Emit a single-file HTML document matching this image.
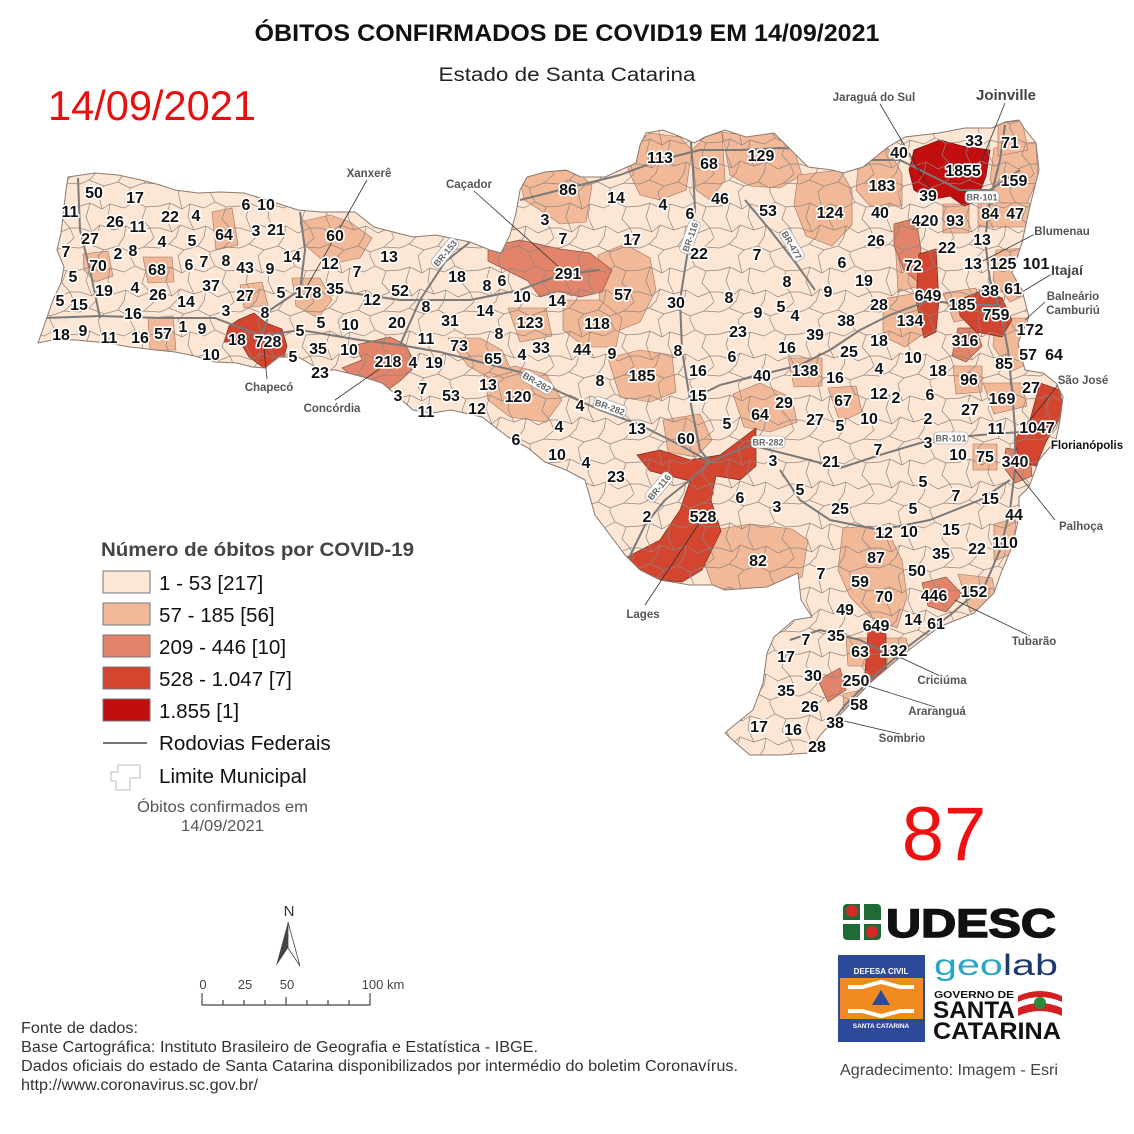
<!DOCTYPE html>
<html><head><meta charset="utf-8"><style>
html,body{margin:0;padding:0;background:#fff;}
svg{display:block;}
.n text{font-family:"Liberation Sans",Arial,sans-serif;font-weight:bold;font-size:16px;fill:#111;stroke:#fff;stroke-width:3.2px;paint-order:stroke;stroke-linejoin:round;text-anchor:middle;}
.pl{font-family:"Liberation Sans",Arial,sans-serif;font-weight:bold;font-size:11.5px;fill:#555;stroke:#fff;stroke-width:2.5px;paint-order:stroke;}
.rl rect{fill:#fff;stroke:#999;stroke-width:0.6;}
.rl text{font-family:"Liberation Sans",Arial,sans-serif;font-weight:bold;font-size:9px;fill:#666;text-anchor:middle;}
.ft{font-family:"Liberation Sans",Arial,sans-serif;font-size:15.5px;fill:#333;}
</style></head><body>
<svg width="1134" height="1134" viewBox="0 0 1134 1134" xmlns="http://www.w3.org/2000/svg">
<defs>
<clipPath id="sc"><polygon id="statep" points="68,177 95,173 118,175 141,180 160,185 175,190 198,193 220,192 244,193 267,200 298,210 321,212 355,212 374,227 397,233 413,237 436,235 470,242 490,250 501,253 510,235 516,213 520,190 527,177 545,172 566,170 581,177 605,177 625,168 636,163 640,145 646,133 663,130 681,137 694,143 705,137 725,130 746,137 774,133 794,153 808,167 832,170 843,173 863,167 888,147 905,137 939,133 965,128 992,128 1005,122 1019,120 1024,128 1036,143 1039,170 1034,190 1029,210 1022,243 1012,273 1022,290 1029,317 1018,343 1025,370 1043,373 1056,383 1063,397 1060,420 1056,440 1039,460 1029,487 1019,497 1019,517 1012,547 1001,573 994,593 974,613 939,627 905,653 870,683 840,715 822,733 808,753 780,755 750,755 738,745 725,733 732,727 753,710 763,683 767,653 774,637 794,620 812,617 801,600 798,573 767,587 725,590 713,585 690,585 660,580 640,570 625,555 610,535 595,515 585,480 566,470 545,462 528,448 508,437 482,417 451,410 432,413 413,410 394,393 382,383 363,377 336,370 321,370 298,357 279,357 265,368 252,367 237,363 215,362 195,356 175,352 156,350 130,347 107,343 76,340 53,340 38,343 45,323 53,300 61,283 64,267 57,250 61,233 64,207 66,190"/></clipPath>
<pattern id="cells" width="80" height="64" patternUnits="userSpaceOnUse">
<path d="M0,14 L10,11 L22,17 L30,12 L44,16 L55,10 L66,15 L80,14 M0,36 L12,40 L20,33 L34,38 L46,34 L58,41 L70,36 L80,36 M0,56 L9,52 L24,58 L38,54 L50,60 L64,55 L80,56 M18,0 L22,17 M50,0 L55,10 M30,12 L28,25 L34,38 M66,15 L62,27 L70,36 M10,11 L6,25 L12,40 M46,34 L44,45 L38,54 M20,33 L16,45 L9,52 M70,36 L74,46 L64,55 M24,58 L18,64 M50,60 L50,64" fill="none" stroke="#8e8580" stroke-width="0.7"/>
</pattern>
</defs>
<rect width="1134" height="1134" fill="#fff"/>

<!-- Titles -->
<text x="567" y="41" text-anchor="middle" textLength="625" lengthAdjust="spacingAndGlyphs" font-family="Liberation Sans, Arial, sans-serif" font-weight="bold" font-size="24" fill="#111">ÓBITOS CONFIRMADOS DE COVID19 EM 14/09/2021</text>
<text x="567" y="81" text-anchor="middle" textLength="257" lengthAdjust="spacingAndGlyphs" font-family="Liberation Sans, Arial, sans-serif" font-size="19" fill="#222">Estado de Santa Catarina</text>
<text x="48" y="120" textLength="208" lengthAdjust="spacingAndGlyphs" font-family="Liberation Sans, Arial, sans-serif" font-size="42" fill="#e8100f">14/09/2021</text>

<!-- Map -->
<g clip-path="url(#sc)">
<rect x="0" y="100" width="1134" height="700" fill="#fde6d4"/>
<g fill="#f2b999" stroke="#a07060" stroke-width="0.6">
<polygon points="300,222 330,215 350,222 372,238 360,258 340,262 320,258 305,245"/>
<polygon points="292,278 320,278 332,300 318,318 296,306"/>
<polygon points="83,254 108,251 113,276 95,282 84,270"/>
<polygon points="143,257 172,257 174,282 148,283"/>
<polygon points="148,318 173,316 176,350 150,350"/>
<polygon points="212,212 232,208 238,245 216,250"/>
<polygon points="628,150 650,133 680,137 692,150 686,190 660,200 640,195 628,170"/>
<polygon points="692,150 705,137 722,132 725,180 710,200 696,190"/>
<polygon points="722,132 750,136 775,133 795,153 802,175 780,188 750,186 730,175"/>
<polygon points="520,178 545,172 575,170 592,185 586,222 560,224 540,210 524,200"/>
<polygon points="598,255 625,244 650,258 656,290 640,322 615,332 600,310"/>
<polygon points="563,300 600,300 622,318 616,347 585,347 563,330"/>
<polygon points="798,175 840,170 852,190 852,225 832,246 806,236 794,205"/>
<polygon points="858,168 888,148 902,174 902,206 870,206 856,190"/>
<polygon points="994,148 1036,143 1038,178 1026,206 1000,202 990,180"/>
<polygon points="608,358 640,350 672,355 676,392 650,402 620,397"/>
<polygon points="484,374 515,366 546,374 562,400 546,422 510,417 488,400"/>
<polygon points="448,338 480,338 502,350 512,372 490,378 468,366"/>
<polygon points="508,308 546,308 552,336 520,342"/>
<polygon points="733,394 760,383 792,398 797,422 770,432 744,427"/>
<polygon points="828,388 856,386 862,412 840,422"/>
<polygon points="788,358 822,358 822,386 794,387"/>
<polygon points="713,530 750,524 792,529 808,540 802,577 770,592 740,595 713,587 703,560"/>
<polygon points="843,528 870,526 892,540 902,560 907,597 897,628 870,617 850,597 838,570"/>
<polygon points="878,638 906,638 912,660 892,682 874,672"/>
<polygon points="846,638 869,638 869,666 848,666"/>
<polygon points="843,694 871,688 866,717 844,717"/>
<polygon points="958,574 992,578 997,602 970,612"/>
<polygon points="994,524 1016,518 1013,553 994,561"/>
<polygon points="983,383 1022,383 1027,406 994,414"/>
<polygon points="883,299 916,293 926,332 905,347 883,336"/>
<polygon points="895,238 916,238 919,286 898,292"/>
<polygon points="996,250 1028,248 1032,292 1010,302 993,280"/>
<polygon points="996,318 1028,318 1032,362 1010,372 993,346"/>
<polygon points="973,444 997,444 997,470 973,470"/>
<polygon points="953,366 982,366 982,392 956,394"/>
<polygon points="943,204 969,204 969,233 943,233"/>
<polygon points="978,203 1030,203 1028,227 978,227"/>
<polygon points="998,124 1022,120 1028,150 998,156"/>
<polygon points="663,420 700,414 712,440 696,457 668,452"/>
<polygon points="943,293 976,288 982,316 954,322"/>
<polygon points="240,285 262,282 268,305 244,308"/>
</g>
<g fill="#e2846a" stroke="#8a5040" stroke-width="0.7">
<polygon points="488,247 520,240 560,249 590,253 612,270 602,292 580,297 560,291 540,297 528,281 508,271 488,261"/>
<polygon points="356,345 390,337 406,345 416,366 400,381 385,392 368,386 352,376 342,368 362,360"/>
<polygon points="894,224 916,218 921,250 918,282 904,270 894,246"/>
<polygon points="922,583 946,577 962,594 946,612 928,606"/>
<polygon points="958,328 976,328 982,346 966,362 952,356"/>
<polygon points="1006,448 1030,452 1032,476 1015,483 1003,466"/>
<polygon points="818,680 840,668 846,690 828,702"/>
</g>
<g fill="#d3452f" stroke="#7a2a1e" stroke-width="0.7">
<polygon points="238,320 254,313 266,323 282,329 287,346 281,366 264,368 249,357 240,342 224,342 229,326"/>
<polygon points="637,455 660,450 690,460 720,455 740,440 756,428 756,466 740,480 716,476 711,500 721,531 702,570 682,582 660,580 640,571 625,558 660,540 680,510 690,481 670,476 650,471"/>
<polygon points="919,254 936,249 939,300 936,332 924,338 916,300"/>
<polygon points="958,300 984,290 1002,298 1012,320 1002,337 976,332 960,316"/>
<polygon points="1040,383 1060,390 1063,412 1046,442 1036,466 1020,462 1014,440 1030,420"/>
<polygon points="868,630 886,634 886,670 876,692 864,682 867,650"/>
</g>
<polygon points="914,150 940,140 962,146 990,150 986,176 976,202 964,206 950,196 930,200 914,190 909,170" fill="#c20e0e" stroke="#6a0a0a" stroke-width="0.7"/>
<rect x="0" y="100" width="1134" height="700" fill="url(#cells)"/>
<!-- roads -->
<g fill="none" stroke="#7a7a7a" stroke-width="2" stroke-linejoin="round">
<polyline points="45,318 100,316 160,318 215,318 262,336 300,330 360,340 400,345 440,352 480,362 520,372 560,392 600,410 640,425 680,445 710,462 750,445 790,455 840,468 880,455 930,440 980,435 1020,432 1045,425"/>
<polyline points="690,130 693,170 695,210 688,250 680,300 682,350 690,400 700,450 710,462 690,480 665,500 645,525 628,560"/>
<polyline points="1005,125 1000,160 990,200 985,240 990,280 1000,310 1008,350 1012,390 1015,430 1015,470 1010,510 1000,550 985,585 950,615 910,645 875,675 845,705 822,735 808,755"/>
<polyline points="1020,170 990,190 960,190 930,175 900,160 860,160 820,150 780,148 740,150 700,150 660,160 620,175 580,185 540,195 520,200"/>
<polyline points="1000,305 960,305 930,300 890,315 860,330 830,350 800,365 760,375 720,385 690,400"/>
<polyline points="400,345 420,300 445,262 470,242"/>
<polyline points="745,200 770,230 795,262 815,290"/>
<polyline points="300,212 305,250 300,290 270,310 262,336"/>
<polyline points="330,290 400,300 470,300 520,290 560,275 600,270"/>
<polyline points="78,178 80,230 90,270 100,318"/>
<polyline points="900,660 860,640 820,630 790,640"/>
<polyline points="780,470 800,500 830,520 880,530 930,520 980,500 1010,480"/>
</g>
</g>
<use href="#statep" fill="none" stroke="#8a7a70" stroke-width="1"/>

<!-- leader lines -->
<g stroke="#333" stroke-width="0.8" fill="none">
<line x1="880" y1="104" x2="932" y2="192"/>
<line x1="1005" y1="103" x2="982" y2="160"/>
<line x1="367" y1="180" x2="305" y2="290"/>
<line x1="474" y1="191" x2="560" y2="268"/>
<line x1="1035" y1="234" x2="975" y2="265"/>
<line x1="1055" y1="272" x2="1022" y2="292"/>
<line x1="1045" y1="302" x2="1025" y2="320"/>
<line x1="1058" y1="385" x2="1030" y2="420"/>
<line x1="1055" y1="520" x2="1015" y2="470"/>
<line x1="267" y1="379" x2="264" y2="348"/>
<line x1="335" y1="400" x2="385" y2="365"/>
<line x1="645" y1="605" x2="700" y2="522"/>
<line x1="1030" y1="636" x2="955" y2="600"/>
<line x1="940" y1="676" x2="895" y2="655"/>
<line x1="935" y1="707" x2="862" y2="684"/>
<line x1="900" y1="734" x2="840" y2="720"/>
</g>

<!-- road labels -->
<g class="rl">
<g transform="translate(445,253) rotate(-50)"><rect x="-17" y="-6" width="34" height="12" rx="4"/><text y="3.5">BR-153</text></g>
<g transform="translate(690,237) rotate(-70)"><rect x="-17" y="-6" width="34" height="12" rx="4"/><text y="3.5">BR-116</text></g>
<g transform="translate(792,245) rotate(60)"><rect x="-17" y="-6" width="34" height="12" rx="4"/><text y="3.5">BR-477</text></g>
<g transform="translate(982,197)"><rect x="-17" y="-6" width="34" height="12" rx="4"/><text y="3.5">BR-101</text></g>
<g transform="translate(537,382) rotate(30)"><rect x="-17" y="-6" width="34" height="12" rx="4"/><text y="3.5">BR-282</text></g>
<g transform="translate(610,407) rotate(20)"><rect x="-17" y="-6" width="34" height="12" rx="4"/><text y="3.5">BR-282</text></g>
<g transform="translate(768,442)"><rect x="-17" y="-6" width="34" height="12" rx="4"/><text y="3.5">BR-282</text></g>
<g transform="translate(951,438)"><rect x="-17" y="-6" width="34" height="12" rx="4"/><text y="3.5">BR-101</text></g>
<g transform="translate(659,487) rotate(-50)"><rect x="-17" y="-6" width="34" height="12" rx="4"/><text y="3.5">BR-116</text></g>
</g>

<!-- numbers -->
<g class="n" transform="translate(0,6)">
<text x="94" y="192">50</text><text x="135" y="197">17</text><text x="70" y="211">11</text><text x="115" y="221">26</text><text x="138" y="226">11</text><text x="170" y="216">22</text><text x="196" y="215">4</text><text x="246" y="204">6</text><text x="266" y="204">10</text><text x="224" y="234">64</text><text x="256" y="230">3</text><text x="276" y="229">21</text><text x="335" y="235">60</text><text x="90" y="238">27</text><text x="162" y="241">4</text><text x="192" y="240">5</text><text x="66" y="251">7</text><text x="118" y="253">2</text><text x="133" y="250">8</text><text x="98" y="265">70</text><text x="157" y="269">68</text><text x="189" y="264">6</text><text x="204" y="261">7</text><text x="226" y="260">8</text><text x="245" y="267">43</text><text x="270" y="268">9</text><text x="292" y="256">14</text><text x="330" y="263">12</text><text x="357" y="271">7</text><text x="389" y="256">13</text><text x="73" y="276">5</text><text x="104" y="290">19</text><text x="135" y="287">4</text><text x="158" y="294">26</text><text x="211" y="285">37</text><text x="245" y="295">27</text><text x="281" y="292">5</text><text x="308" y="292">178</text><text x="335" y="288">35</text><text x="372" y="299">12</text><text x="400" y="290">52</text><text x="457" y="276">18</text><text x="487" y="285">8</text><text x="502" y="280">6</text><text x="60" y="300">5</text><text x="79" y="304">15</text><text x="186" y="301">14</text><text x="133" y="313">16</text><text x="226" y="310">3</text><text x="265" y="312">8</text><text x="321" y="322">5</text><text x="350" y="324">10</text><text x="397" y="322">20</text><text x="426" y="306">8</text><text x="450" y="320">31</text><text x="485" y="310">14</text><text x="522" y="296">10</text><text x="557" y="300">14</text><text x="61" y="334">18</text><text x="83" y="330">9</text><text x="109" y="337">11</text><text x="140" y="337">16</text><text x="163" y="333">57</text><text x="183" y="326">1</text><text x="202" y="328">9</text><text x="237" y="339">18</text><text x="268" y="341">728</text><text x="300" y="330">5</text><text x="426" y="338">11</text><text x="499" y="333">8</text><text x="530" y="322">123</text><text x="597" y="323">118</text><text x="211" y="354">10</text><text x="293" y="356">5</text><text x="318" y="348">35</text><text x="349" y="349">10</text><text x="388" y="361">218</text><text x="413" y="362">4</text><text x="434" y="362">19</text><text x="459" y="345">73</text><text x="493" y="358">65</text><text x="522" y="354">4</text><text x="541" y="347">33</text><text x="582" y="349">44</text><text x="612" y="353">9</text><text x="320" y="372">23</text><text x="398" y="395">3</text><text x="423" y="388">7</text><text x="451" y="395">53</text><text x="488" y="384">13</text><text x="518" y="396">120</text><text x="600" y="380">8</text><text x="642" y="375">185</text><text x="426" y="411">11</text><text x="477" y="408">12</text><text x="580" y="405">4</text><text x="516" y="439">6</text><text x="559" y="426">4</text><text x="557" y="454">10</text><text x="586" y="462">4</text><text x="616" y="476">23</text><text x="637" y="428">13</text><text x="686" y="438">60</text><text x="727" y="423">5</text><text x="760" y="414">64</text><text x="784" y="402">29</text><text x="815" y="419">27</text><text x="840" y="425">5</text><text x="843" y="400">67</text><text x="869" y="418">10</text><text x="879" y="393">12</text><text x="896" y="397">2</text><text x="930" y="394">6</text><text x="928" y="418">2</text><text x="970" y="409">27</text><text x="678" y="350">8</text><text x="698" y="370">16</text><text x="732" y="356">6</text><text x="698" y="395">15</text><text x="762" y="375">40</text><text x="805" y="370">138</text><text x="835" y="377">16</text><text x="849" y="351">25</text><text x="879" y="368">4</text><text x="913" y="357">10</text><text x="938" y="370">18</text><text x="969" y="379">96</text><text x="1004" y="363">85</text><text x="1028" y="354">57</text><text x="1054" y="354">64</text><text x="1031" y="387">27</text><text x="1002" y="398">169</text><text x="996" y="428">11</text><text x="1037" y="427">1047</text><text x="928" y="442">3</text><text x="958" y="454">10</text><text x="985" y="456">75</text><text x="1015" y="461">340</text><text x="878" y="449">7</text><text x="831" y="461">21</text><text x="773" y="460">3</text><text x="800" y="489">5</text><text x="740" y="497">6</text><text x="777" y="506">3</text><text x="840" y="508">25</text><text x="913" y="508">5</text><text x="923" y="481">5</text><text x="956" y="495">7</text><text x="990" y="498">15</text><text x="1014" y="514">44</text><text x="884" y="532">12</text><text x="909" y="531">10</text><text x="951" y="529">15</text><text x="941" y="553">35</text><text x="977" y="548">22</text><text x="1005" y="542">110</text><text x="876" y="557">87</text><text x="917" y="570">50</text><text x="821" y="573">7</text><text x="860" y="581">59</text><text x="758" y="560">82</text><text x="884" y="596">70</text><text x="934" y="595">446</text><text x="974" y="591">152</text><text x="845" y="609">49</text><text x="913" y="619">14</text><text x="936" y="623">61</text><text x="876" y="625">649</text><text x="836" y="635">35</text><text x="806" y="639">7</text><text x="860" y="651">63</text><text x="894" y="650">132</text><text x="786" y="656">17</text><text x="813" y="675">30</text><text x="856" y="680">250</text><text x="786" y="690">35</text><text x="810" y="706">26</text><text x="859" y="704">58</text><text x="835" y="722">38</text><text x="759" y="726">17</text><text x="793" y="729">16</text><text x="817" y="746">28</text><text x="647" y="516">2</text><text x="703" y="516">528</text>
<text x="660" y="157">113</text><text x="709" y="163">68</text><text x="761" y="155">129</text><text x="568" y="189">86</text><text x="616" y="197">14</text><text x="663" y="204">4</text><text x="690" y="213">6</text><text x="720" y="198">46</text><text x="768" y="210">53</text><text x="830" y="212">124</text><text x="882" y="185">183</text><text x="880" y="212">40</text><text x="545" y="219">3</text><text x="563" y="238">7</text><text x="632" y="239">17</text><text x="699" y="253">22</text><text x="757" y="254">7</text><text x="842" y="262">6</text><text x="876" y="240">26</text><text x="864" y="280">19</text><text x="568" y="273">291</text><text x="623" y="294">57</text><text x="676" y="302">30</text><text x="729" y="297">8</text><text x="787" y="281">8</text><text x="828" y="291">9</text><text x="781" y="306">5</text><text x="758" y="312">9</text><text x="795" y="315">4</text><text x="879" y="304">28</text><text x="738" y="331">23</text><text x="815" y="334">39</text><text x="846" y="320">38</text><text x="879" y="340">18</text><text x="787" y="347">16</text>
<text x="899" y="152">40</text><text x="974" y="140">33</text><text x="1010" y="142">71</text><text x="963" y="170">1855</text><text x="1014" y="180">159</text><text x="928" y="195">39</text><text x="925" y="220">420</text><text x="955" y="220">93</text><text x="990" y="213">84</text><text x="1015" y="213">47</text><text x="947" y="247">22</text><text x="982" y="239">13</text><text x="913" y="265">72</text><text x="973" y="263">13</text><text x="1003" y="263">125</text><text x="1036" y="263">101</text><text x="928" y="295">649</text><text x="962" y="304">185</text><text x="990" y="290">38</text><text x="1013" y="288">61</text><text x="996" y="314">759</text><text x="910" y="320">134</text><text x="1030" y="329">172</text><text x="965" y="340">316</text>
</g>

<!-- place names -->
<text class="pl" x="874" y="101" text-anchor="middle">Jaraguá do Sul</text>
<text class="pl" x="1006" y="100" text-anchor="middle" style="font-size:15px;fill:#444">Joinville</text>
<text class="pl" x="369" y="177" text-anchor="middle">Xanxerê</text>
<text class="pl" x="469" y="188" text-anchor="middle">Caçador</text>
<text class="pl" x="1062" y="235" text-anchor="middle">Blumenau</text>
<text class="pl" x="1067" y="275" text-anchor="middle" style="font-size:14px;fill:#444">Itajaí</text>
<text class="pl" x="1073" y="300" text-anchor="middle">Balneário</text>
<text class="pl" x="1073" y="314" text-anchor="middle">Camburiú</text>
<text class="pl" x="1083" y="384" text-anchor="middle">São José</text>
<text class="pl" x="1087" y="449" text-anchor="middle" style="fill:#111">Florianópolis</text>
<text class="pl" x="1081" y="530" text-anchor="middle">Palhoça</text>
<text class="pl" x="269" y="391" text-anchor="middle">Chapecó</text>
<text class="pl" x="332" y="412" text-anchor="middle">Concórdia</text>
<text class="pl" x="643" y="618" text-anchor="middle">Lages</text>
<text class="pl" x="1034" y="645" text-anchor="middle">Tubarão</text>
<text class="pl" x="942" y="684" text-anchor="middle">Criciúma</text>
<text class="pl" x="937" y="715" text-anchor="middle">Araranguá</text>
<text class="pl" x="902" y="742" text-anchor="middle">Sombrio</text>

<!-- Legend -->
<text x="101" y="556" textLength="313" lengthAdjust="spacingAndGlyphs" font-family="Liberation Sans, Arial, sans-serif" font-weight="bold" font-size="19" fill="#444">Número de óbitos por COVID-19</text>
<g stroke="#777" stroke-width="1">
<rect x="103" y="571" width="47" height="22" fill="#fde6d4"/>
<rect x="103" y="603" width="47" height="22" fill="#f2b999"/>
<rect x="103" y="635" width="47" height="22" fill="#e2846a"/>
<rect x="103" y="667" width="47" height="22" fill="#d3452f"/>
<rect x="103" y="699" width="47" height="22" fill="#c20e0e"/>
</g>
<g font-family="Liberation Sans, Arial, sans-serif" font-size="20.6" fill="#111">
<text x="159" y="590">1 - 53 [217]</text>
<text x="159" y="622">57 - 185 [56]</text>
<text x="159" y="654">209 - 446 [10]</text>
<text x="159" y="686">528 - 1.047 [7]</text>
<text x="159" y="718">1.855 [1]</text>
<text x="159" y="750">Rodovias Federais</text>
<text x="159" y="783">Limite Municipal</text>
</g>
<line x1="103" y1="743" x2="147" y2="743" stroke="#777" stroke-width="2"/>
<polygon points="118,765 140,765 140,778 130,778 130,790 116,790 116,781 111,781 111,772 118,772" fill="none" stroke="#bbb" stroke-width="1"/>
<text x="137" y="812" textLength="171" lengthAdjust="spacingAndGlyphs" font-family="Liberation Sans, Arial, sans-serif" font-size="15.5" fill="#555">Óbitos confirmados em</text>
<text x="181" y="831" textLength="83" lengthAdjust="spacingAndGlyphs" font-family="Liberation Sans, Arial, sans-serif" font-size="15.5" fill="#555">14/09/2021</text>

<!-- 87 -->
<text x="944" y="860" text-anchor="middle" font-family="Liberation Sans, Arial, sans-serif" font-size="76" fill="#ee1111">87</text>

<!-- North arrow & scale -->
<text x="289" y="916" text-anchor="middle" font-family="Liberation Sans, Arial, sans-serif" font-size="15" fill="#333">N</text>
<polygon points="288,922 276,966 288,948" fill="#444"/>
<polygon points="288,922 300,966 288,948" fill="#fff" stroke="#444" stroke-width="0.8"/>
<g font-family="Liberation Sans, Arial, sans-serif" font-size="13" fill="#444" text-anchor="middle">
<text x="203" y="989">0</text><text x="245" y="989">25</text><text x="287" y="989">50</text><text x="383" y="989">100 km</text>
</g>
<g stroke="#444" stroke-width="1.2" fill="none">
<polyline points="202,993 202,1005 370,1005 370,993"/>
<line x1="223" y1="1000" x2="223" y2="1005"/><line x1="244" y1="1000" x2="244" y2="1005"/><line x1="265" y1="1000" x2="265" y2="1005"/><line x1="286" y1="997" x2="286" y2="1005"/><line x1="307" y1="1000" x2="307" y2="1005"/><line x1="328" y1="1000" x2="328" y2="1005"/><line x1="349" y1="1000" x2="349" y2="1005"/>
</g>

<!-- Footer -->
<text class="ft" x="21" y="1033" textLength="117" lengthAdjust="spacingAndGlyphs">Fonte de dados:</text>
<text class="ft" x="21" y="1052" textLength="517" lengthAdjust="spacingAndGlyphs">Base Cartográfica: Instituto Brasileiro de Geografia e Estatística - IBGE.</text>
<text class="ft" x="21" y="1071" textLength="717" lengthAdjust="spacingAndGlyphs">Dados oficiais do estado de Santa Catarina disponibilizados por intermédio do boletim Coronavírus.</text>
<text class="ft" x="21" y="1090" textLength="237" lengthAdjust="spacingAndGlyphs">http://www.coronavirus.sc.gov.br/</text>

<!-- UDESC logo -->
<g>
<rect x="843" y="904" width="38" height="36" rx="4" fill="#1e6b35"/>
<rect x="860" y="904" width="4" height="36" fill="#fff"/>
<rect x="843" y="920" width="38" height="4" fill="#fff"/>
<circle cx="852" cy="911" r="6" fill="#d62a2a"/>
<circle cx="872" cy="932" r="6" fill="#d62a2a"/>
<text x="886" y="937" textLength="170" lengthAdjust="spacingAndGlyphs" font-family="Liberation Sans, Arial, sans-serif" font-weight="bold" font-size="40" fill="#111" stroke="#111" stroke-width="1.5">UDESC</text>
</g>
<!-- Defesa Civil -->
<rect x="838" y="955" width="87" height="87" fill="#2d4a9a"/>
<rect x="840" y="978" width="83" height="41" fill="#f28a22"/>
<text x="881" y="974" text-anchor="middle" font-family="Liberation Sans, Arial, sans-serif" font-weight="bold" font-size="8" fill="#fff">DEFESA CIVIL</text>
<text x="881" y="1028" text-anchor="middle" font-family="Liberation Sans, Arial, sans-serif" font-weight="bold" font-size="6.5" fill="#fff">SANTA CATARINA</text>
<polyline points="848,987 862,987 881,982 900,987 914,987" fill="none" stroke="#fff" stroke-width="4"/>
<polyline points="848,1011 862,1011 881,1016 900,1011 914,1011" fill="none" stroke="#fff" stroke-width="4"/>
<polygon points="881,990 872,1005 890,1005" fill="#2d4a9a"/>
<!-- geolab -->
<text x="934" y="975" textLength="124" lengthAdjust="spacingAndGlyphs" font-family="Liberation Sans, Arial, sans-serif" font-size="30" fill="#29a6c8">ge<tspan fill="#29a6c8">o</tspan><tspan fill="#1d3a6e">lab</tspan></text>
<!-- Governo SC -->
<text x="934" y="998" textLength="80" lengthAdjust="spacingAndGlyphs" font-family="Liberation Sans, Arial, sans-serif" font-weight="bold" font-size="10" fill="#111">GOVERNO DE</text>
<text x="933" y="1018" textLength="82" lengthAdjust="spacingAndGlyphs" font-family="Liberation Sans, Arial, sans-serif" font-weight="bold" font-size="24" fill="#111">SANTA</text>
<text x="933" y="1039" textLength="128" lengthAdjust="spacingAndGlyphs" font-family="Liberation Sans, Arial, sans-serif" font-weight="bold" font-size="24" fill="#111">CATARINA</text>
<path d="M1018,996 Q1040,986 1062,996 L1062,1016 Q1040,1006 1018,1016 Z" fill="#d32020"/>
<path d="M1018,1002 Q1040,992 1062,1002 L1062,1008 Q1040,998 1018,1008 Z" fill="#fff"/>
<circle cx="1040" cy="1003" r="6" fill="#2a8a3a"/>
<text x="840" y="1075" textLength="218" lengthAdjust="spacingAndGlyphs" font-family="Liberation Sans, Arial, sans-serif" font-size="15.5" fill="#444">Agradecimento: Imagem - Esri</text>
</svg>
</body></html>
